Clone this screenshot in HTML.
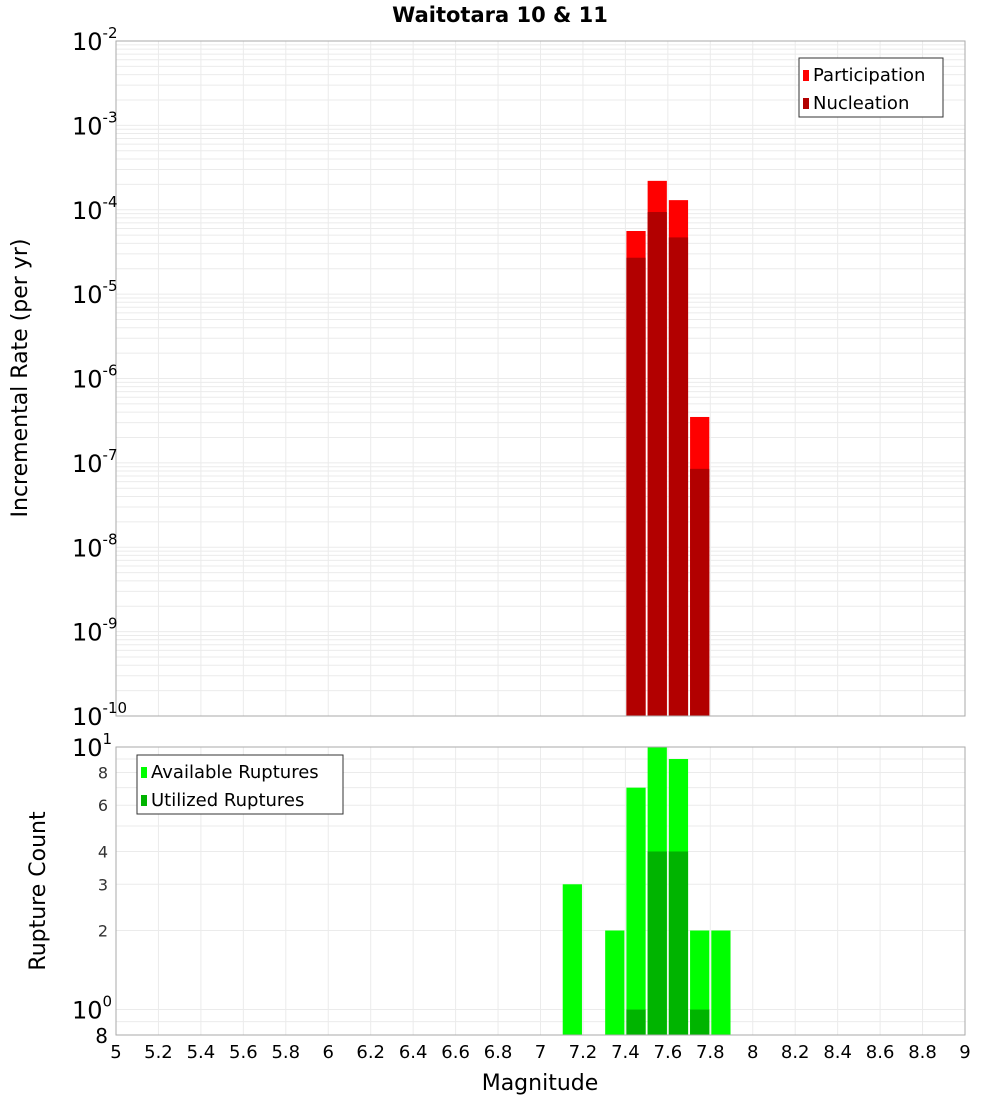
<!DOCTYPE html>
<html><head><meta charset="utf-8"><style>
body{margin:0;background:#fff;}
svg{display:block;font-family:"DejaVu Sans","Liberation Sans",sans-serif;}
</style></head><body>
<svg id="chart" width="1000" height="1100"></svg>
<script>
const magBins=[7.45,7.55,7.65,7.75];
const participation=[5.6e-5,2.2e-4,1.3e-4,3.5e-7];
const nucleation=[2.7e-5,9.4e-5,4.7e-5,8.5e-8];
const countBins=[7.15,7.35,7.45,7.55,7.65,7.75,7.85];
const available=[3,2,7,10,9,2,2];
const utilized=[0,0,1,4,4,1,0];
const xTicks=["5","5.2","5.4","5.6","5.8","6","6.2","6.4","6.6","6.8","7","7.2","7.4","7.6","7.8","8","8.2","8.4","8.6","8.8","9"];
const topExps=[-2,-3,-4,-5,-6,-7,-8,-9,-10];
const botTicks=["8","6","4","3","2"];
const botTickVals=[8,6,4,3,2];

const NS="http://www.w3.org/2000/svg";
const svg=document.getElementById('chart');
function mk(tag,attrs,parent){const e=document.createElementNS(NS,tag);for(const k in attrs)e.setAttribute(k,attrs[k]);(parent||svg).appendChild(e);return e;}
const L=116,R=965,T1=41,B1=716,T2=747,B2=1035;
const x=v=>L+(v-5)/4*(R-L);
const y1=v=>T1+(-2-Math.log10(v))/8*(B1-T1);
const y2=v=>T2+(1-Math.log10(v))/(1-Math.log10(0.8))*(B2-T2);

const g1=mk('g',{});


const g2=mk('g',{});



// grids
for(let i=0;i<=20;i++){const xv=x(5+i*0.2);
 mk('line',{x1:xv,x2:xv,y1:T1,y2:B1,stroke:'#ebebeb'},g1);
 mk('line',{x1:xv,x2:xv,y1:T2,y2:B2,stroke:'#ebebeb'},g2);}
for(let e=-10;e<-2;e++){for(let m=1;m<10;m++){const yy=y1(m*Math.pow(10,e));mk('line',{x1:L,x2:R,y1:yy,y2:yy,stroke:'#ebebeb'},g1);}}
[0.8,0.9,1,2,3,4,5,6,7,8,9,10].forEach(v=>{const yy=y2(v);mk('line',{x1:L,x2:R,y1:yy,y2:yy,stroke:'#ebebeb'},g2);});

// bars top
const bw=0.1*(R-L)/4;
magBins.forEach((m,i)=>{
 const r=mk('rect',{x:x(m)-bw/2+1,width:bw-2,y:y1(participation[i]),height:B1-y1(participation[i]),fill:'#ff0000'},g1);
 
 
 const n=mk('rect',{x:x(m)-bw/2+1,width:bw-2,y:y1(nucleation[i]),height:B1-y1(nucleation[i]),fill:'#b20000'},g1);
 
 
});
countBins.forEach((m,i)=>{
 const r=mk('rect',{x:x(m)-bw/2+1,width:bw-2,y:y2(available[i]),height:B2-y2(available[i]),fill:'#00ff00'},g2);
 
 
 if(utilized[i]>0){const n=mk('rect',{x:x(m)-bw/2+1,width:bw-2,y:y2(utilized[i]),height:B2-y2(utilized[i]),fill:'#00b400'},g2);
 
 }
});
mk('rect',{x:L,y:T1,width:R-L,height:B1-T1,fill:'none',stroke:'#aaa'},g1);
mk('rect',{x:L,y:T2,width:R-L,height:B2-T2,fill:'none',stroke:'#aaa'},g2);

// top y ticks
topExps.forEach(e=>{const yy=y1(Math.pow(10,e));
 const t=mk('text',{x:72,y:yy+9,'font-size':24,fill:'#000'});
 
 
 t.innerHTML='10<tspan dy="-12" font-size="15">'+e+'</tspan>';});
// bottom y ticks
botTickVals.forEach((v,i)=>{const t=mk('text',{x:108,y:y2(v)+6,'font-size':16,'text-anchor':'end',fill:'#333'});
 
 
 t.textContent=botTicks[i];});
[[10,'1'],[1,'0']].forEach(([v,e])=>{const t=mk('text',{x:72,y:y2(v)+9,'font-size':24,fill:'#000'});
 
 
 t.innerHTML='10<tspan dy="-12" font-size="15">'+e+'</tspan>';});
{const t=mk('text',{x:108,y:B2+8,'font-size':20,'text-anchor':'end',fill:'#000'});t.textContent='8';

}
// x ticks
xTicks.forEach(s=>{const t=mk('text',{x:x(parseFloat(s)),y:1058,'font-size':18,'text-anchor':'middle',fill:'#000'});
 
 
 t.textContent=s;});

function txt(s,attrs,name){const t=mk('text',attrs);t.textContent=s;return t;}
txt('Waitotara 10 & 11',{x:500,y:22,'font-size':21,'font-weight':'bold','text-anchor':'middle'},'chart-title');
txt('Magnitude',{x:540,y:1090,'font-size':22,'text-anchor':'middle'},'x-axis-title');
txt('Incremental Rate (per yr)',{x:27,y:378,'font-size':22,'text-anchor':'middle',transform:'rotate(-90 27 378)'},'y-axis-title');
txt('Rupture Count',{x:45,y:891,'font-size':22,'text-anchor':'middle',transform:'rotate(-90 45 891)'},'count-axis-title');

// legends
function legend(x0,y0,w,h,items,name){const g=mk('g',{});
 mk('rect',{x:x0,y:y0,width:w,height:h,fill:'#fff',stroke:'#333'},g);
 items.forEach(([lab,col],i)=>{mk('rect',{x:x0+4,y:y0+12+i*28,width:6,height:11,fill:col},g);
  const t=mk('text',{x:x0+14,y:y0+23+i*28,'font-size':18},g);t.textContent=lab;
  
  });}
legend(799,58,144,59,[['Participation','#ff0000'],['Nucleation','#b20000']],'rate-legend');
legend(137,755,206,59,[['Available Ruptures','#00ff00'],['Utilized Ruptures','#00b400']],'count-legend');
</script>
</body></html>
